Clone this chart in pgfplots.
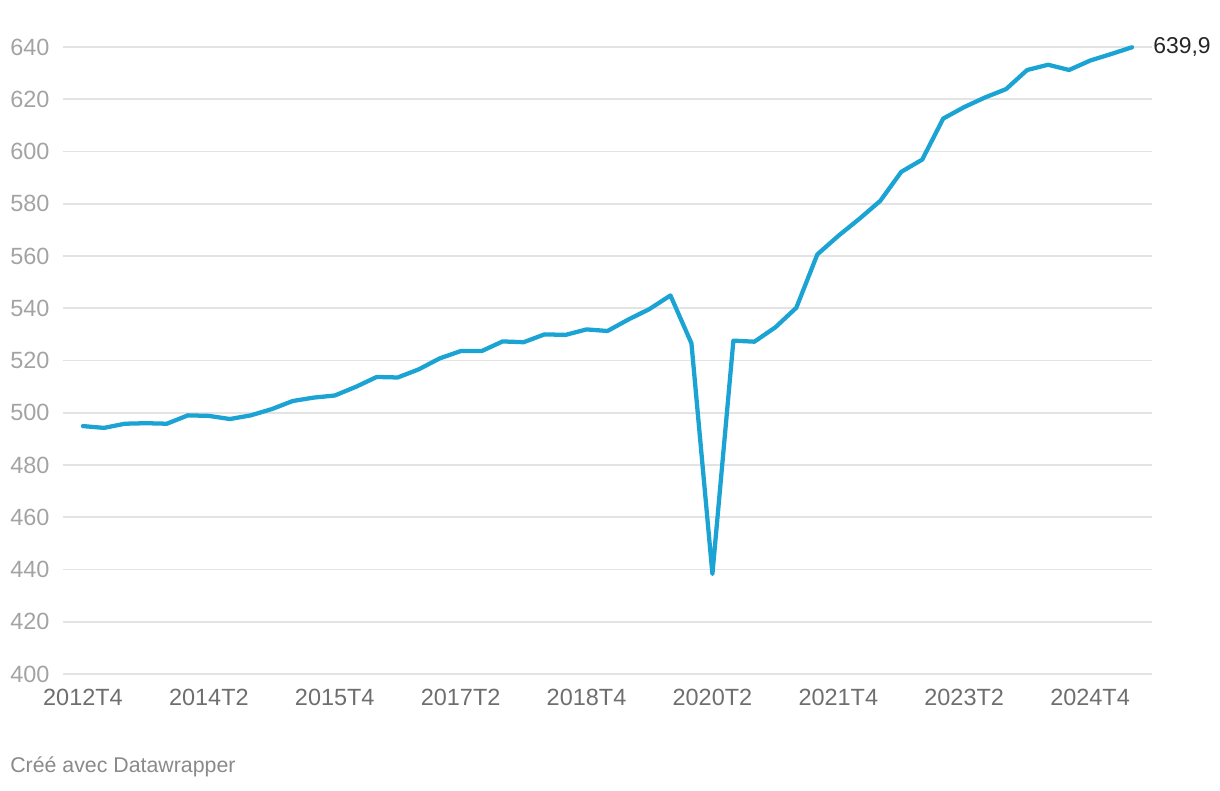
\documentclass[border=0pt]{standalone}
\usepackage{pgfplots}
\pgfplotsset{compat=1.18}
\usepackage{fontspec}
\setmainfont{Liberation Sans}
\definecolor{linieblau}{HTML}{1AA3D3}
\definecolor{gitter}{HTML}{E3E3E3}
\definecolor{ylab}{HTML}{A3A3A3}
\definecolor{xlab}{HTML}{6E6E6E}
\definecolor{fuss}{HTML}{8A8A8A}

\pgfplotstableread{
i v
0 494.9
1 494.2
2 495.8
3 496.0
4 495.8
5 499.0
6 498.8
7 497.6
8 499.0
9 501.4
10 504.5
11 505.8
12 506.6
13 509.9
14 513.7
15 513.5
16 516.6
17 520.8
18 523.6
19 523.6
20 527.3
21 527.0
22 530.0
23 529.8
24 531.9
25 531.3
26 535.7
27 539.7
28 544.9
29 526.6
30 438.3
31 527.6
32 527.2
33 532.7
34 540.2
35 560.6
36 567.7
37 574.2
38 581.1
39 592.2
40 596.9
41 612.6
42 617.0
43 620.7
44 623.9
45 631.2
46 633.2
47 631.2
48 634.8
49 637.3
50 639.9
}\serie

\begin{document}
\begin{tikzpicture}
  \useasboundingbox (0,0) rectangle (915pt,592.5pt);
  \begin{axis}[
    at={(47.25pt,87pt)}, anchor=south west,
    scale only axis,
    width=816.75pt, height=470.25pt,
    xmin=-0.952, xmax=50.952,
    ymin=400, ymax=640,
    axis line style={draw=none},
    major tick length=0pt,
    xtick={0,6,...,48},
    xticklabels={2012T4,2014T2,2015T4,2017T2,2018T4,2020T2,2021T4,2023T2,2024T4},
    ytick={400,420,...,640},
    ymajorgrids=true,
    grid style={gitter, line width=1.4pt},
    xticklabel style={font=\fontsize{17.6}{19}\selectfont, text=xlab, inner sep=0pt, anchor=north, yshift=-11pt},
    yticklabel style={font=\fontsize{17.6}{19}\selectfont, text=ylab, inner sep=0pt, anchor=west, xshift=-39.75pt},
    /pgf/number format/assume math mode=true,
    clip=false,
  ]
    \addplot[linieblau, line width=3.2pt, line join=round, line cap=round] table[x=i, y=v] {\serie};
    \node[anchor=west, inner sep=0pt, xshift=15.75pt, text=black!85,
          font=\fontsize{17.2}{19}\selectfont] at (axis cs:50,639.9) {639,9};
  \end{axis}
  \node[anchor=west, inner sep=0pt, text=fuss, font=\fontsize{16}{18}\selectfont]
    at (7.5pt,17.25pt) {Créé avec Datawrapper};
\end{tikzpicture}
\end{document}
